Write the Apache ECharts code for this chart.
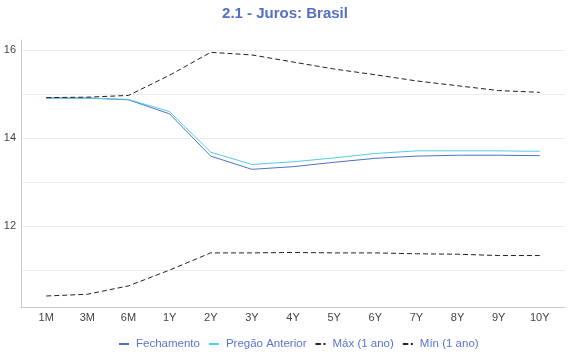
<!DOCTYPE html>
<html>
<head>
<meta charset="utf-8">
<script src="https://cdn.jsdelivr.net/npm/echarts@6/dist/echarts.min.js"></script>
<style>
html,body{margin:0;padding:0;background:#fff;}
#c{width:570px;height:360px;}
</style>
</head>
<body>
<div id="c"></div>
<script>
var categories = ['1M','3M','6M','1Y','2Y','3Y','4Y','5Y','6Y','7Y','8Y','9Y','10Y'];
var fechamento = [14.91,14.91,14.87,14.55,13.59,13.29,13.35,13.45,13.54,13.59,13.61,13.61,13.60];
var pregaoAnterior = [14.91,14.91,14.88,14.60,13.68,13.40,13.46,13.55,13.65,13.71,13.71,13.71,13.70];
var maxAno = [14.92,14.93,14.97,15.43,15.95,15.89,15.73,15.57,15.44,15.30,15.19,15.08,15.04];
var minAno = [10.41,10.45,10.64,11.00,11.39,11.39,11.40,11.39,11.39,11.37,11.36,11.33,11.33];
var yLabelValues = [12,14,16];
var yGridValues = [11,12,13,14,15,16];

function pairs(arr){ return arr.map(function(v,i){ return [i,v]; }); }
var font = 'Liberation Sans, Arial, sans-serif';
var catIdx = categories.map(function(c,i){ return i; });
var chart = echarts.init(document.getElementById('c'), null, {renderer:'canvas'});
chart.setOption({
  animation:false,
  backgroundColor:'#fff',
  title:{
    text:'2.1 - Juros: Brasil',
    left:'center', top:1,
    textStyle:{color:'#5470c6', fontSize:15, fontWeight:'bold', fontFamily:font}
  },
  legend:{
    bottom:5, left:113,
    itemWidth:10, itemHeight:2, itemGap:8,
    textStyle:{color:'#5a74d0', fontSize:11.5, fontFamily:font, padding:[0,0,0,2]},
    data:['Fechamento','Pregão Anterior','Máx (1 ano)','Mín (1 ano)']
  },
  grid:{left:21, right:5, top:40, bottom:53, containLabel:false},
  xAxis:{
    type:'value', min:-0.614, max:12.614,
    axisLine:{show:true, onZero:false, lineStyle:{color:'#cccccc'}},
    axisTick:{show:false, customValues:catIdx},
    splitLine:{show:false},
    axisLabel:{
      customValues:catIdx,
      formatter:function(v){ return categories[Math.round(v)]; },
      color:'#444', fontSize:11, fontFamily:font, margin:5
    }
  },
  yAxis:{
    type:'value', min:10.16, max:16.23,
    axisLine:{show:true, onZero:false, lineStyle:{color:'#cccccc'}},
    axisTick:{show:false, customValues:yGridValues},
    splitLine:{show:true, lineStyle:{color:'#ebebeb', width:1}},
    axisLabel:{customValues:yLabelValues, color:'#444', fontSize:11, fontFamily:font, margin:5}
  },
  series:[
    {name:'Fechamento', type:'line', data:pairs(fechamento), showSymbol:false, symbol:'none',
     lineStyle:{color:'#5470c6', width:1}, itemStyle:{color:'#5470c6'}},
    {name:'Pregão Anterior', type:'line', data:pairs(pregaoAnterior), showSymbol:false, symbol:'none',
     lineStyle:{color:'#55cde3', width:1}, itemStyle:{color:'#55cde3'}},
    {name:'Máx (1 ano)', type:'line', data:pairs(maxAno), showSymbol:false, symbol:'none',
     lineStyle:{color:'#222', width:1, type:[5,3]}, itemStyle:{color:'#222'}},
    {name:'Mín (1 ano)', type:'line', data:pairs(minAno), showSymbol:false, symbol:'none',
     lineStyle:{color:'#222', width:1, type:[5,3]}, itemStyle:{color:'#222'}}
  ]
});
</script>
</body>
</html>
